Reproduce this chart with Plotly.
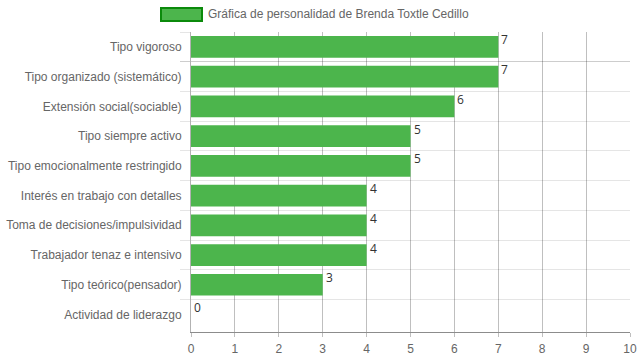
import plotly.graph_objects as go

categories = [
    "Tipo vigoroso",
    "Tipo organizado (sistemático)",
    "Extensión social(sociable)",
    "Tipo siempre activo",
    "Tipo emocionalmente restringido",
    "Interés en trabajo con detalles",
    "Toma de decisiones/impulsividad",
    "Trabajador tenaz e intensivo",
    "Tipo teórico(pensador)",
    "Actividad de liderazgo",
]
values = [7, 7, 6, 5, 5, 4, 4, 4, 3, 0]
series_name = "Gráfica de personalidad de Brenda Toxtle Cedillo"
x_ticks = list(range(0, 11))

bar_color = "#4CB54C"
legend_border = "#0B8A0B"
font_family = "Liberation Sans, Arial, sans-serif"

fig = go.Figure()
fig.add_trace(go.Bar(
    x=values, y=categories, orientation="h",
    marker=dict(color=bar_color, line=dict(width=0)),
    name=series_name, showlegend=False, hoverinfo="x+y",
))

for v, c in zip(values, categories):
    fig.add_annotation(x=v, y=c, text=str(v), showarrow=False,
                       xanchor="left", yanchor="middle", xshift=1, yshift=7,
                       font=dict(family="Open Sans, sans-serif", size=12, color="#333"))

# legend box (drawn manually to mimic wide legend swatch)
fig.add_shape(type="rect", xref="paper", yref="paper",
              x0=(161 - 191) / 439, x1=(202 - 191) / 439,
              y0=(332 - 21) / 300, y1=(332 - 8) / 300,
              fillcolor=bar_color, line=dict(color=legend_border, width=2), layer="above")
fig.add_annotation(xref="paper", yref="paper", x=(206 - 191) / 439, y=(332 - 14.5) / 300,
                   text=series_name, showarrow=False, xanchor="left", yanchor="middle",
                   font=dict(family=font_family, size=12, color="#666"))

fig.update_layout(
    width=639, height=360,
    margin=dict(l=191, r=9, t=32, b=28, autoexpand=False),
    plot_bgcolor="white", paper_bgcolor="white",
    bargap=0.27,
    font=dict(family=font_family, size=12, color="#666"),
    xaxis=dict(range=[0, 10], tickvals=x_ticks, showgrid=True, automargin=False,
               gridcolor="rgba(0,0,0,0.25)", gridwidth=1,
               zeroline=False, showline=True, linecolor="rgba(0,0,0,0.45)", linewidth=1,
               ticks="outside", ticklen=4, tickcolor="rgba(0,0,0,0.25)",
               ticklabelstandoff=2,
               tickfont=dict(size=12, color="#666"), fixedrange=True),
    yaxis=dict(type="category", categoryorder="array", categoryarray=categories,
               autorange="reversed", tickson="boundaries", showgrid=True, automargin=False,
               gridcolor="rgba(0,0,0,0.1)", gridwidth=1,
               ticks="outside", ticklen=10, tickcolor="rgba(0,0,0,0.1)",
               ticklabelstandoff=6,
               showline=True, linecolor="rgba(0,0,0,0.3)", linewidth=1,
               zeroline=False, tickfont=dict(size=12, color="#666"), fixedrange=True),
)

fig.write_html("out.html", config={"displayModeBar": False},
               post_script="document.body.style.margin='0';document.body.style.overflow='hidden';")
